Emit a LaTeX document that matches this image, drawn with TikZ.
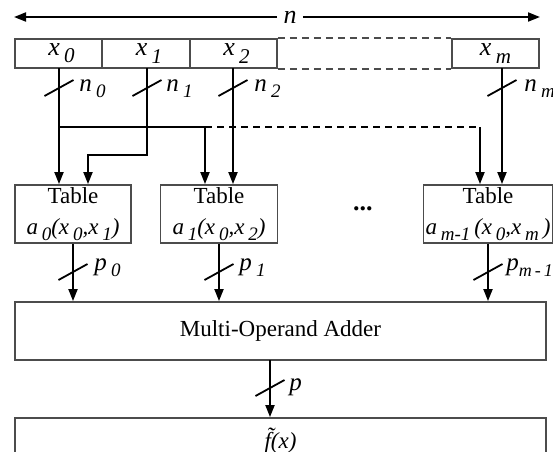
\documentclass[tikz,border=0pt]{standalone}
\usepackage{fontspec}
\setmainfont{Liberation Serif}
\usetikzlibrary{arrows.meta,calc}
\newcommand\sbs[1]{\,\raisebox{-0.6ex}{\itshape\fontsize{9.5}{10}\selectfont #1}}
\newcommand\sbl[1]{\,\raisebox{-0.6ex}{\itshape\fontsize{10.5}{11}\selectfont #1}}
\begin{document}
\begin{tikzpicture}[x=0.5pt,y=-0.5pt,
  every node/.style={font=\fontsize{11.5}{15.5}\selectfont},
  box/.style={draw=black!70,line width=0.9pt,inner sep=0pt,minimum height=14.5pt,font=\fontsize{13}{14}\selectfont\itshape},
  tbl/.style={draw=black!70,line width=0.9pt,inner sep=0pt,minimum height=29pt,align=center},
  dbox/.style={draw=black!70,line width=0.9pt,dash pattern=on 3.5pt off 2.5pt},
  wire/.style={line width=0.9pt,-{Triangle[length=6pt,width=4.5pt]}},
  line/.style={line width=0.9pt},
  lbl/.style={anchor=base west,inner sep=0pt,font=\fontsize{12.5}{13}\selectfont\itshape},
]
\clip (0,0) rectangle (553,451);
\useasboundingbox (0,0) rectangle (553,451);
\newcommand\bmark[1]{\draw[line] ($(#1)+(-14.5,8)$) -- ++(29,-16);}

% top width arrow
\coordinate (nl) at (14,17);
\coordinate (nr) at (540,17);
\node[fill=white,inner sep=3pt,font=\fontsize{13}{14}\selectfont\itshape] (n) at (290,17) {n};
\draw[wire] (n) -- (nl);
\draw[wire] (n) -- (nr);

% input word
\node[box,minimum width=43.5pt] (c0) at (58.5,53.5) {\hspace{3pt}x\sbl{0}};
\node[box,minimum width=44pt] (c1) at (146,53.5) {\hspace{3pt}x\sbl{1}};
\node[box,minimum width=43.5pt] (c2) at (233.5,53.5) {\hspace{3pt}x\sbl{2}};
\node[box,minimum width=43.5pt] (cm) at (495.5,53.5) {x\sbl{m}\hspace{3pt}};
\draw[dbox] (c2.north east) -- (cm.north west) (c2.south east) -- (cm.south west);

% tables
\node[tbl,minimum width=58pt] (t0) at (73,214) {Table\\\itshape a\sbs{0}(x\sbs{0},x\sbs{1})};
\node[tbl,minimum width=58.5pt] (t1) at (219,214) {Table\\\itshape a\sbs{1}(x\sbs{0},x\sbs{2})};
\node[tbl,minimum width=64.5pt] (tm) at (488,214) {Table\\\itshape a\sbs{m-1}\,(x\sbs{0},x\sbs{m}\,)};
\node[font=\fontsize{13}{14}\selectfont\bfseries] (dots) at (363,209) {...};

% adder and output
\node[tbl,minimum width=265.5pt] (add) at (280.5,331) {Multi-Operand Adder};
\node[tbl,minimum width=265.5pt,minimum height=23pt] (out) at (280.5,441) {\itshape \~{f}(x)};

% wiring from inputs
\coordinate (b0) at (59,127);
\coordinate (b1) at (205,127);
\coordinate (b2) at (480,127);
\coordinate (k1) at (147,155);
\coordinate (k2) at (88,155);
\coordinate (x0t) at (59,68);
\coordinate (x1t) at (147,68);
\coordinate (x2t) at (233,68);
\coordinate (xmt) at (502,68);
\draw[wire] (x0t) -- (x0t |- t0.north);
\draw[line] (b0) -- (b1);
\draw[line,dash pattern=on 3.5pt off 2.5pt] (b1) -- (b2);
\draw[wire] (b1) -- (b1 |- t1.north);
\draw[wire] (b2) -- (b2 |- tm.north);
\draw[wire] (x1t) -- (k1) -- (k2) -- (k2 |- t0.north);
\draw[wire] (x2t) -- (x2t |- t1.north);
\draw[wire] (xmt) -- (xmt |- tm.north);

% table outputs
\coordinate (pt) at (270,360);
\draw[wire] (t0.south) -- (t0.south |- add.north);
\draw[wire] (t1.south) -- (t1.south |- add.north);
\draw[wire] (tm.south) -- (tm.south |- add.north);
\draw[wire] (pt) -- (pt |- out.north);

% bus width marks
\bmark{59,88}
\bmark{147,88}
\bmark{233,88}
\bmark{502,88}
\bmark{73,272}
\bmark{219,272}
\bmark{488,272}
\bmark{270,388}

% bus width labels
\node[lbl] (ln0) at (79,91) {n\sbs{0}};
\node[lbl] (ln1) at (166,91) {n\sbs{1}};
\node[lbl] (ln2) at (254,91) {n\sbs{2}};
\node[lbl] (lnm) at (524,91) {n\sbs{m}};
\node[lbl] (lp0) at (94,270) {p\sbs{0}};
\node[lbl] (lp1) at (239,270) {p\sbs{1}};
\node[lbl] (lpm) at (506,270) {p\raisebox{-0.6ex}{\itshape\fontsize{9}{10}\selectfont m\,-\,1}};
\node[lbl] (lp) at (289,390) {p};
\end{tikzpicture}
\end{document}
